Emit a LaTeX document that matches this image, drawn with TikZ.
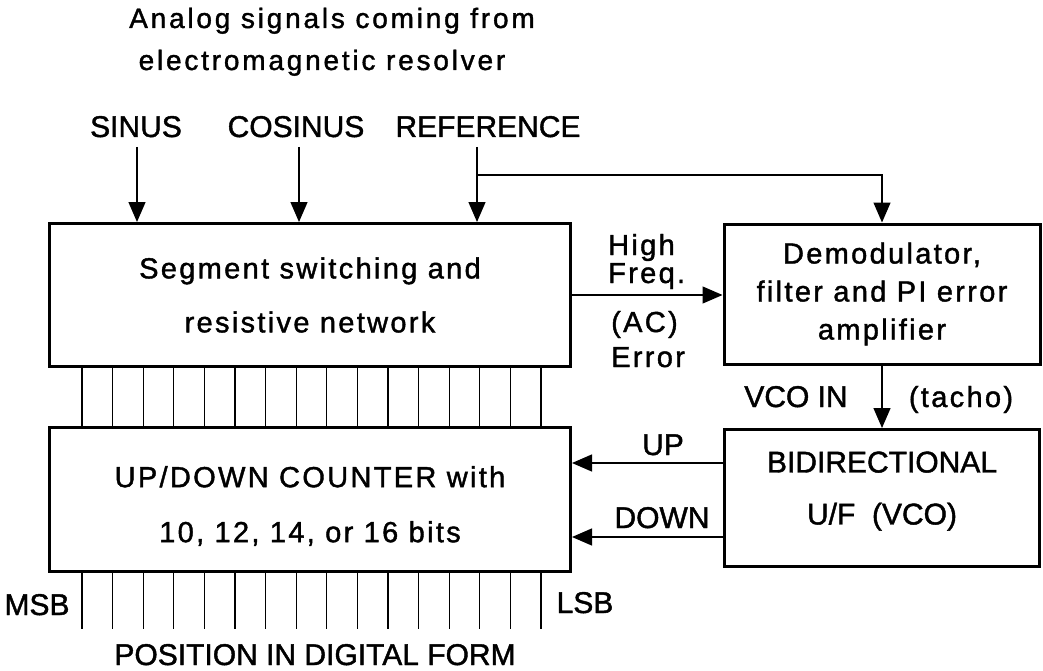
\documentclass[tikz,border=0pt]{standalone}
\usepackage{fontspec}
\setmainfont{Liberation Sans}[FakeBold=1.4]
\newfontfamily\widefont{Liberation Sans}[LetterSpace=8,FakeBold=1.4]
\newfontfamily\titlefont{Liberation Sans}[LetterSpace=10,FakeBold=1.4]
\usetikzlibrary{arrows.meta,positioning,calc}
\tikzset{
  blk/.style={draw, line width=3pt, align=center, inner sep=0pt},
  capl/.style={font=\fontsize{30}{36}\selectfont, inner sep=0pt, anchor=base},
  lowl/.style={font=\widefont\fontsize{29}{36}\selectfont, inner sep=0pt, anchor=base},
  ttl/.style={font=\titlefont\fontsize{28}{32}\selectfont, inner sep=0pt, anchor=base},
  sig/.style={-{Triangle[length=20pt,width=17pt]}, line width=1.3pt},
  bit/.style={line width=1.2pt},
}
\begin{document}
\begin{tikzpicture}[x=1pt,y=-1pt]
  \useasboundingbox (0,0) rectangle (1043,671);
  \node[ttl] (ttl1) at (332,28) {Analog signals coming from};
  \node[ttl] (ttl2) at (322,70) {electromagnetic resolver};
  \node[capl] (sinus) at (136,137) {SINUS};
  \node[capl] (cosinus) at (296,137) {COSINUS};
  \node[capl] (refer) at (488,137) {REFERENCE};

  \node[blk, minimum width=521pt, minimum height=143pt, font=\widefont\fontsize{29}{54}\selectfont] (seg) at (310,295) {Segment switching and\\resistive network};
  \node[blk, minimum width=316pt, minimum height=140pt, font=\widefont\fontsize{29}{38}\selectfont] (demod) at (882,294) {Demodulator,\\filter and PI error\\amplifier};
  \node[blk, minimum width=521pt, minimum height=144pt, font=\widefont\fontsize{29}{55}\selectfont] (cnt) at (310,499) {\rule{0pt}{35pt}UP/DOWN COUNTER with\\10, 12, 14, or 16 bits};
  \node[blk, minimum width=315pt, minimum height=137pt, font=\fontsize{30}{52}\selectfont] (vco) at (882,498) {BIDIRECTIONAL\\U/F~~(VCO)\rule[-20pt]{0pt}{20pt}};

  \coordinate (sinin) at (137,147);
  \coordinate (cosin) at (299,147);
  \coordinate (refin) at (477,147);
  \coordinate (refsplit) at (477,175);
  \draw[sig] (sinin) -- (sinin |- seg.north);
  \draw[sig] (cosin) -- (cosin |- seg.north);
  \draw[sig] (refin) -- (refin |- seg.north);
  \draw[sig] (refsplit) -| (demod.north);

  % error path
  \draw[sig] (seg.east) -- (seg.east -| demod.west);
  \node[lowl, anchor=base west] (hi) at (608,255) {High};
  \node[lowl, anchor=base west] (frq) at (608,283) {Freq.};
  \node[lowl, anchor=base west] (acl) at (611,332) {(AC)};
  \node[lowl, anchor=base west] (err) at (611,367) {Error};

  \draw[sig] (demod.south) -- (vco.north);
  \node[capl] (vcoin) at (796,407) {VCO IN};
  \node[lowl] (tacho) at (961,407) {(tacho)};

  \draw[sig] ([yshift=35pt]vco.west) -- ([yshift=35pt]vco.west -| cnt.east);
  \draw[sig] ([yshift=-39pt]vco.west) -- ([yshift=-39pt]vco.west -| cnt.east);
  \node[capl] (up) at (663,455) {UP};
  \node[capl] (down) at (662,528) {DOWN};

  % bit lines
  \foreach \i in {0,...,15} {
    \draw[bit] ($(seg.south west)+(34+\i*30.6,0)$) -- ($(cnt.north west)+(34+\i*30.6,0)$);
    \draw[bit] ($(cnt.south west)+(34+\i*30.6,0)$) -- ++(0,56);
  }
  \node[capl] (msb) at (37,615) {MSB};
  \node[capl] (lsb) at (585,613) {LSB};
  \node[capl] (pos) at (315,665) {POSITION IN DIGITAL FORM};
\end{tikzpicture}
\end{document}
